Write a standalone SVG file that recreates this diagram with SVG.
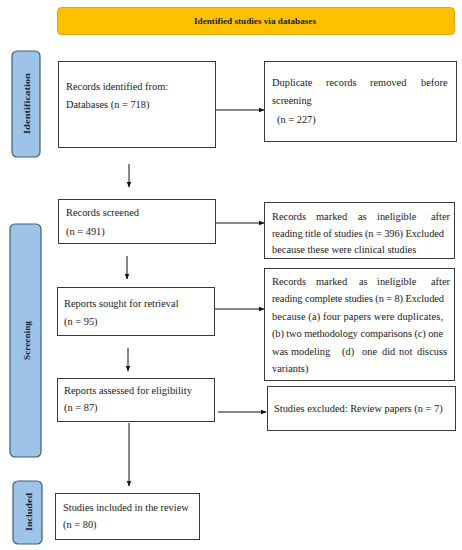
<svg xmlns="http://www.w3.org/2000/svg" width="462" height="550" viewBox="0 0 462 550">
<style>
.box{fill:#fff;stroke:#3a3a3a;stroke-width:1}
.side{fill:#9DC3E6;stroke:#3f5f7a;stroke-width:1.2}
.t{font-family:"Liberation Serif","DejaVu Serif",serif;font-size:10.4px;fill:#222}
.b{font-family:"Liberation Serif","DejaVu Serif",serif;font-size:9.1px;font-weight:bold;fill:#222}
.c{stroke:#111;stroke-width:1;fill:none;marker-end:url(#ah)}
</style>
<defs>
<marker id="ah" viewBox="0 0 10 10" refX="9" refY="5" markerWidth="6" markerHeight="6" orient="auto" markerUnits="userSpaceOnUse">
<path d="M0,1 L10,5 L0,9 z" fill="#111"/>
</marker>
</defs>
<rect width="462" height="550" fill="#fff"/>
<g id="banner">
<rect x="57.5" y="7.5" width="397" height="27" rx="4" fill="#FFC000" stroke="#E2A70A"/>
<text class="b" x="194" y="24" textLength="122" lengthAdjust="spacingAndGlyphs">Identified studies via databases</text>
</g>
<g id="side-identification">
<rect class="side" x="12" y="51" width="28" height="106" rx="5"/>
<text class="b" transform="translate(30,134) rotate(-90)" font-size="10.5" textLength="61" lengthAdjust="spacingAndGlyphs">Identification</text>
</g>
<g id="side-screening">
<rect class="side" x="10" y="224" width="31" height="233" rx="5"/>
<text class="b" transform="translate(29.5,360) rotate(-90)" font-size="10.5" textLength="39" lengthAdjust="spacingAndGlyphs">Screening</text>
</g>
<g id="side-included">
<rect class="side" x="13" y="481" width="29" height="63" rx="5"/>
<text class="b" transform="translate(31.5,531) rotate(-90)" font-size="10.5" textLength="38" lengthAdjust="spacingAndGlyphs">Included</text>
</g>
<g id="n1">
<rect class="box" x="58.5" y="61.5" width="157" height="86"/>
<text class="t" x="66" y="90">Records identified from:</text>
<text class="t" x="66" y="108">Databases (n = 718)</text>
</g>
<g id="n2">
<rect class="box" x="264.5" y="61.5" width="192" height="80"/>
<text class="t" y="86"><tspan x="272">Duplicate</tspan><tspan x="326">records</tspan><tspan x="370">removed</tspan><tspan x="421">before</tspan></text>
<text class="t" x="272" y="104">screening</text>
<text class="t" x="277" y="123">(n = 227)</text>
</g>
<g id="n3">
<rect class="box" x="58.5" y="199.5" width="157" height="44"/>
<text class="t" x="66" y="216">Records screened</text>
<text class="t" x="66" y="235">(n = 491)</text>
</g>
<g id="n4">
<rect class="box" x="264.5" y="202.5" width="190" height="56"/>
<text class="t" y="220"><tspan x="272">Records</tspan><tspan x="316">marked</tspan><tspan x="358">as</tspan><tspan x="377">ineligible</tspan><tspan x="431">after</tspan></text>
<text class="t" x="272" y="237" textLength="172" lengthAdjust="spacing">reading title of studies (n = 396) Excluded</text>
<text class="t" x="272" y="253">because these were clinical studies</text>
</g>
<g id="n5">
<rect class="box" x="57.5" y="287.5" width="157" height="48"/>
<text class="t" x="64" y="307">Reports sought for retrieval</text>
<text class="t" x="64" y="325">(n = 95)</text>
</g>
<g id="n6">
<rect class="box" x="264.5" y="268.5" width="190" height="112"/>
<text class="t" y="285"><tspan x="272">Records</tspan><tspan x="316">marked</tspan><tspan x="359">as</tspan><tspan x="377">ineligible</tspan><tspan x="431">after</tspan></text>
<text class="t" x="272" y="302" textLength="172" lengthAdjust="spacing">reading complete studies (n = 8) Excluded</text>
<text class="t" x="272" y="320" textLength="171" lengthAdjust="spacing">because (a) four papers were duplicates,</text>
<text class="t" x="272" y="337" textLength="171" lengthAdjust="spacing">(b) two methodology comparisons (c) one</text>
<text class="t" y="355"><tspan x="272">was</tspan><tspan x="291">modeling</tspan><tspan x="342">(d)</tspan><tspan x="362">one</tspan><tspan x="382">did</tspan><tspan x="399">not</tspan><tspan x="417">discuss</tspan></text>
<text class="t" x="272" y="372">variants)</text>
</g>
<g id="n7">
<rect class="box" x="57.5" y="378.5" width="157" height="43"/>
<text class="t" x="64" y="394">Reports assessed for eligibility</text>
<text class="t" x="64" y="411">(n = 87)</text>
</g>
<g id="n8">
<rect class="box" x="267.5" y="386.5" width="188" height="44"/>
<text class="t" x="274" y="412">Studies excluded: Review papers (n = 7)</text>
</g>
<g id="n9">
<rect class="box" x="55.5" y="493.5" width="144" height="46"/>
<text class="t" x="63" y="511">Studies included in the review</text>
<text class="t" x="63" y="528">(n = 80)</text>
</g>
<g id="connectors">
<path class="c" d="M216,110 H264"/>
<path class="c" d="M129,164 V187"/>
<path class="c" d="M216,223 H264"/>
<path class="c" d="M127,256 V279"/>
<path class="c" d="M215,309 H264"/>
<path class="c" d="M128,348 V371"/>
<path class="c" d="M218,412 H266"/>
<path class="c" d="M129,423 V486"/>
</g>
</svg>
